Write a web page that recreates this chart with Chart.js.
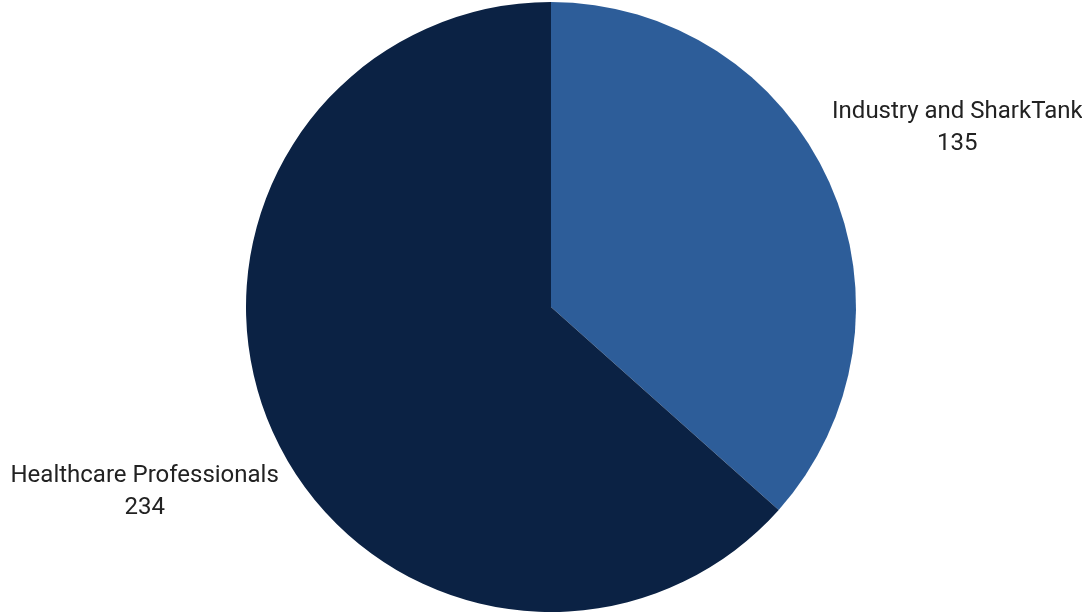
<!DOCTYPE html>
<html>
<head>
<meta charset="utf-8">
<script src="https://cdn.jsdelivr.net/npm/chart.js@4"></script>
<style>
  html, body { margin: 0; padding: 0; background: #fff; }
  #wrap { width: 1082px; height: 614px; }
</style>
</head>
<body>
<div id="wrap"><canvas id="myChart"></canvas></div>
<script>
let labels = ['Industry and SharkTank', 'Healthcare Professionals'];
let values = [135, 234];
let colors = ['#2d5d99', '#0b2244'];

// draw "name / value" outside each slice, along its middle angle
const outsideLabels = {
  id: 'outsideLabels',
  afterDatasetsDraw(chart) {
    const ctx = chart.ctx;
    const meta = chart.getDatasetMeta(0);
    ctx.save();
    ctx.font = '24px Roboto';
    ctx.fillStyle = '#222';
    ctx.textAlign = 'center';
    ctx.textBaseline = 'middle';
    meta.data.forEach(function(arc, i) {
      const mid = (arc.startAngle + arc.endAngle) / 2;
      const d = arc.outerRadius * 1.46;
      const x = arc.x + Math.cos(mid) * d;
      const y = arc.y + Math.sin(mid) * d;
      ctx.fillText(labels[i], x, y - 13);
      ctx.fillText(String(values[i]), x, y + 19);
    });
    ctx.restore();
  }
};

let data = {
  labels: labels,
  datasets: [{
    data: values,
    backgroundColor: colors,
    borderWidth: 0
  }]
};

let config = {
  type: 'pie',
  data: data,
  options: {
    responsive: true,
    maintainAspectRatio: false,
    animation: false,
    layout: { padding: { left: 20, right: 0, top: 2, bottom: 2 } },
    plugins: {
      legend: { display: false },
      tooltip: { enabled: false }
    }
  },
  plugins: [outsideLabels]
};

let myChart = new Chart(document.getElementById('myChart'), config);
</script>
</body>
</html>
